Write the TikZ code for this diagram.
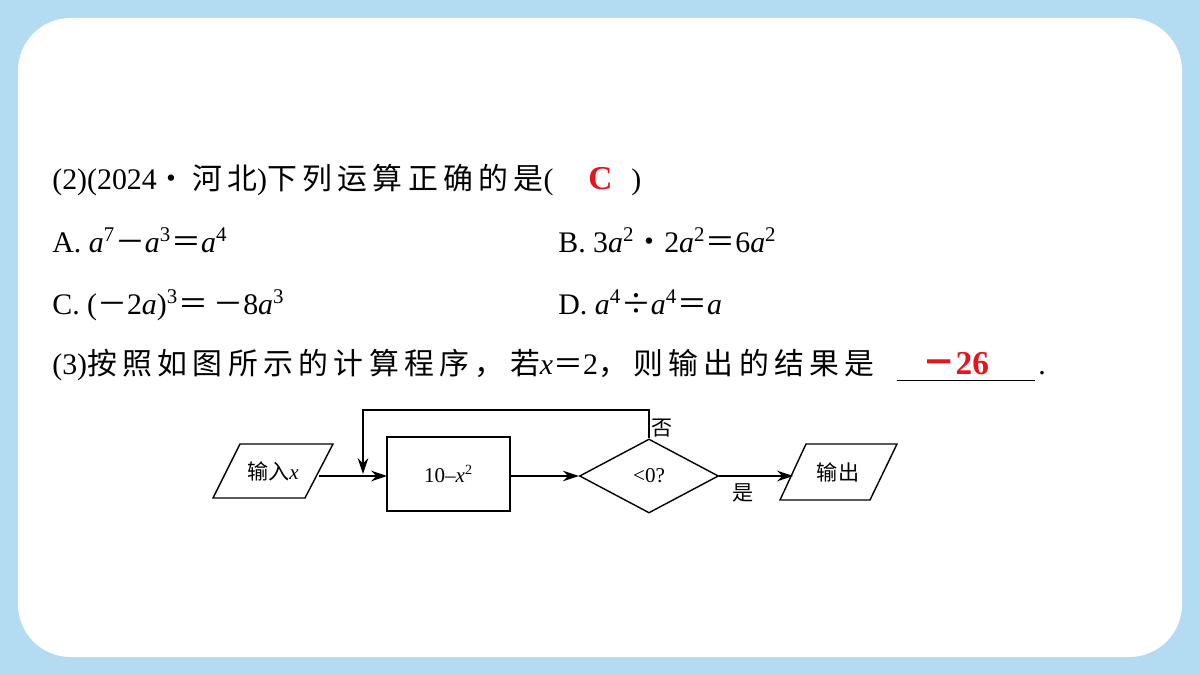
\documentclass[tikz,border=0pt]{standalone}
\usepackage{fontspec}
\setmainfont{Liberation Serif}
\newfontfamily\cjk[LetterSpace=18]{Noto Sans CJK SC}
\newfontfamily\cjkflow{Noto Sans CJK SC}
\usetikzlibrary{shapes.geometric,arrows.meta}
\definecolor{bgblue}{HTML}{B3DCF2}
\definecolor{ansred}{HTML}{E8141B}
\newcommand{\va}{\textit{a}}
\newcommand{\ch}[1]{{\cjk #1}}
\newcommand{\chf}[1]{{\cjkflow #1}}
\begin{document}
\begin{tikzpicture}
        [x=0.02cm, y=-0.02cm,
        line/.style={anchor=base west, inner sep=0pt, font=\fontsize{17}{20}\selectfont},
        flow/.style={thick, black},
        arrow/.style={flow, -{Stealth[length=9pt,width=6pt]}},
        lbl/.style={inner sep=0pt, font=\fontsize{12}{14}\selectfont}]

        % background and card
        \fill[bgblue] (0,0) rectangle (1200,675);
        \fill[white, rounded corners=30] (18,18) rectangle (1182,657);
        \useasboundingbox (0,0) rectangle (1200,675);

        % question text
        \node[line] (q2) at (52,190) {(2)(2024\ch{•河北})\ch{下列运算正确的是}(\hspace{2.6em})};
        \node[line, text=ansred, font=\fontsize{19}{20}\selectfont\bfseries] (ans2) at (588,190) {C};
        \node[line] (optA) at (52,253) {A. \va\textsuperscript{7}\ch{－}\va\textsuperscript{3}\ch{＝}\va\textsuperscript{4}};
        \node[line] (optB) at (558,253) {B. 3\va\textsuperscript{2}\ch{•}2\va\textsuperscript{2}\ch{＝}6\va\textsuperscript{2}};
        \node[line] (optC) at (52,315) {C. (\ch{－}2\va)\textsuperscript{3}\ch{＝－}8\va\textsuperscript{3}};
        \node[line] (optD) at (558,315) {D. \va\textsuperscript{4}\ch{÷}\va\textsuperscript{4}\ch{＝}\va};
        \node[line] (q3) at (52,375) {(3)\ch{按照如图所示的计算程序，若}\textit{x}\ch{＝}2\ch{，则输出的结果是}};
        \draw (897,380) -- (1035,380);
        \node[line] (dot) at (1038,375) {.};
        \node[line, text=ansred, font=\fontsize{19}{20}\selectfont\bfseries] (ans3) at (922,375) {\chf{－}26};

        % flowchart
        \coordinate (in1) at (213,498); \coordinate (in2) at (240,444);
        \coordinate (in3) at (333,444); \coordinate (in4) at (305,498);
        \draw[flow] (in1) -- (in2) -- (in3) -- (in4) -- cycle;
        \node[lbl] (input) at (273,471) {\chf{输入}\textit{x}};

        \node[draw, thick, minimum width=123*0.02cm, minimum height=74*0.02cm, lbl] (calc) at (448.5,474) {10–\textit{x}\textsuperscript{2}};

        \node[draw, thick, diamond, aspect=1.9, minimum width=139*0.02cm, minimum height=74*0.02cm, inner sep=0pt, font=\fontsize{12}{14}\selectfont] (test) at (649,476) {<0?};

        \coordinate (out1) at (780,500); \coordinate (out2) at (806,444);
        \coordinate (out3) at (897,444); \coordinate (out4) at (870,500);
        \draw[flow] (out1) -- (out2) -- (out3) -- (out4) -- cycle;
        \node[lbl] (output) at (838,472) {\chf{输出}};

        \coordinate (inR) at (319,476);
        \coordinate (calcL) at (387,476);
        \coordinate (calcR) at (510,476);
        \coordinate (outL) at (793,476);
        \coordinate (loopR) at (649,410);
        \coordinate (loopL) at (363,410);
        \coordinate (loopE) at (363,474);

        \draw[arrow] (inR) -- (calcL);
        \draw[arrow] (calcR) -- (test.west);
        \draw[arrow] (test.east) -- (outL);
        \draw[arrow] (test.north) -- (loopR) -- (loopL) -- (loopE);
        \node[lbl] (no) at (662,428) {\chf{否}};
        \node[lbl] (yes) at (743,493) {\chf{是}};
\end{tikzpicture}
\end{document}
